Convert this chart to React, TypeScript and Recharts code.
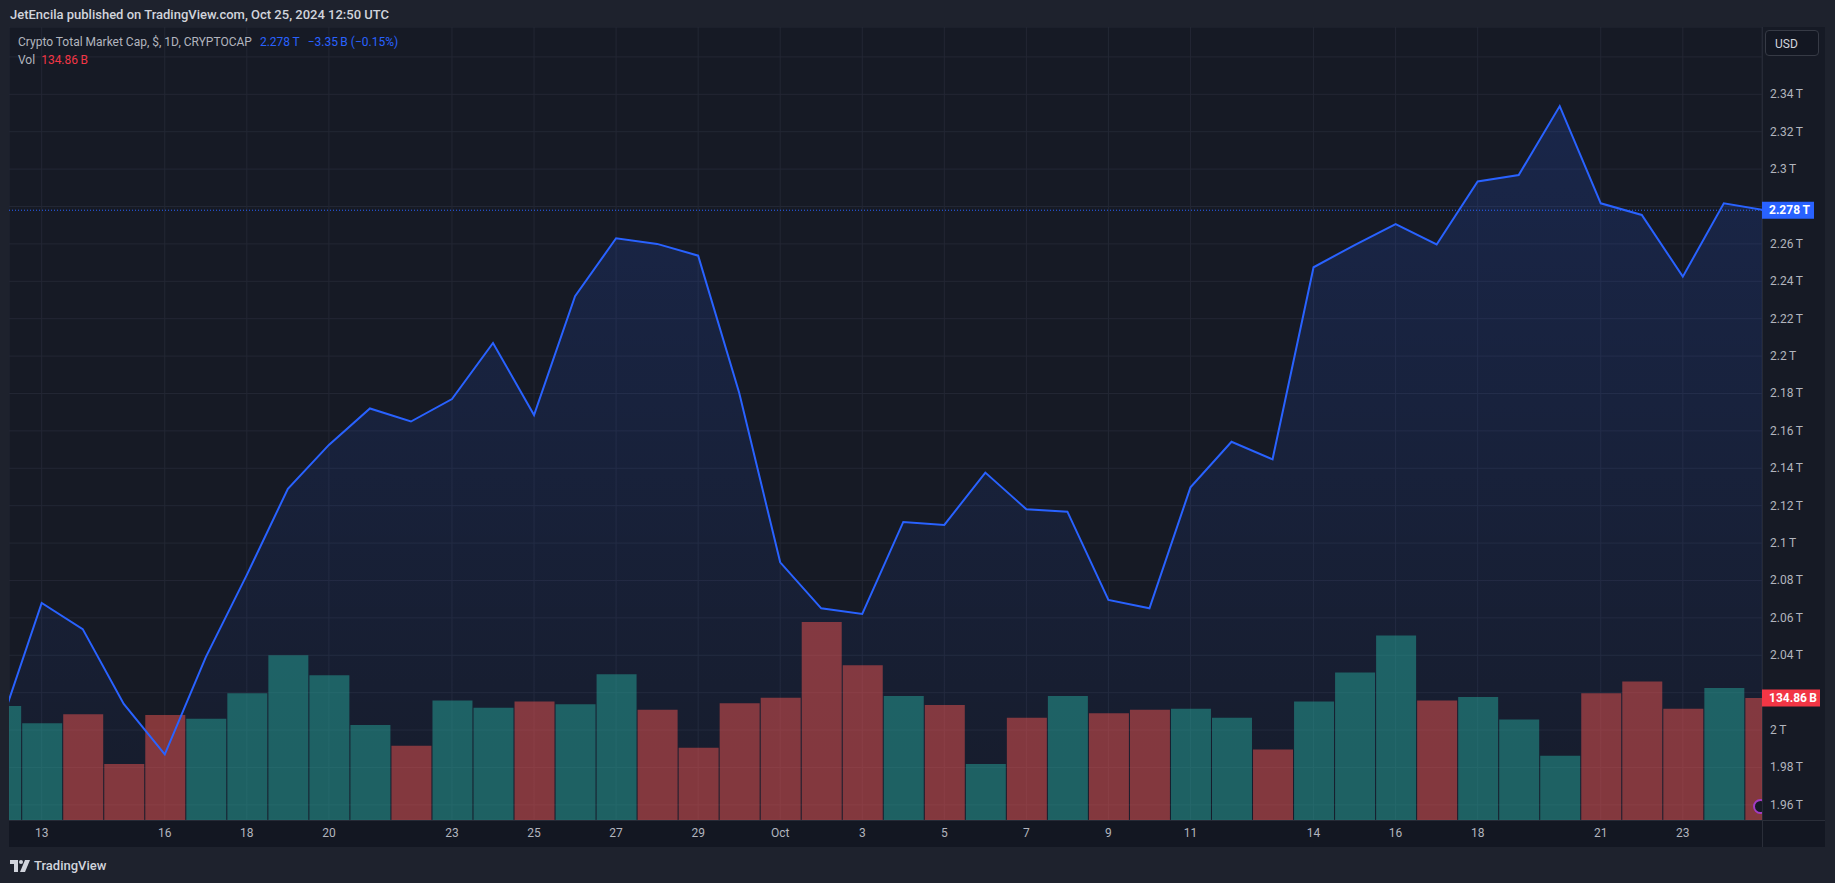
import React from 'react';
import { ComposedChart, Area, Line, Bar, Cell, XAxis, YAxis, CartesianGrid, ReferenceLine } from 'recharts';

// daily closes, Sep 12 – Oct 25 2024
const days = [
    'Sep 12', 'Sep 13', 'Sep 14', 'Sep 15', 'Sep 16', 'Sep 17', 'Sep 18', 'Sep 19', 'Sep 20', 'Sep 21',
    'Sep 22', 'Sep 23', 'Sep 24', 'Sep 25', 'Sep 26', 'Sep 27', 'Sep 28', 'Sep 29', 'Sep 30',
    'Oct 1', 'Oct 2', 'Oct 3', 'Oct 4', 'Oct 5', 'Oct 6', 'Oct 7', 'Oct 8', 'Oct 9', 'Oct 10',
    'Oct 11', 'Oct 12', 'Oct 13', 'Oct 14', 'Oct 15', 'Oct 16', 'Oct 17', 'Oct 18', 'Oct 19', 'Oct 20',
    'Oct 21', 'Oct 22', 'Oct 23', 'Oct 24', 'Oct 25',
];

// total market cap, trillions USD
const marketCap = [
    2.003, 2.068, 2.054, 2.014, 1.987, 2.039, 2.083, 2.129, 2.1525, 2.172,
    2.165, 2.177, 2.207, 2.1685, 2.232, 2.263, 2.26, 2.2537, 2.1804,
    2.0897, 2.0651, 2.0621, 2.1113, 2.1097, 2.1377, 2.1181, 2.1168, 2.0696, 2.0651,
    2.1298, 2.1542, 2.1448, 2.2475, 2.2594, 2.2706, 2.2597, 2.2934, 2.2968, 2.3337,
    2.2817, 2.2755, 2.2425, 2.2817, 2.278,
];

// volume, billions USD
const volume = [
    126, 107, 117, 62, 116, 112, 140, 182, 160, 105,
    82, 132, 124, 131, 128, 161, 122, 80, 129,
    135, 219, 171, 137, 127, 62, 113, 137, 118, 122,
    123, 113, 78, 131, 163, 204, 132, 136, 111, 71,
    140, 153, 123, 146, 134.86,
];

// 1 = candle closed up, 0 = closed down
const closedUp = [
    1, 1, 0, 0, 0, 1, 1, 1, 1, 1,
    0, 1, 1, 0, 1, 1, 0, 0, 0,
    0, 0, 0, 1, 0, 1, 0, 1, 0, 0,
    1, 1, 0, 1, 1, 1, 0, 1, 1, 1,
    0, 0, 0, 1, 0,
];

const dateTicks = [1, 4, 6, 8, 11, 13, 15, 17, 19, 21, 23, 25, 27, 29, 32, 34, 36, 39, 41];
const dateTickLabels = ['13', '16', '18', '20', '23', '25', '27', '29', 'Oct', '3', '5', '7', '9', '11', '14', '16', '18', '21', '23'];

const priceTicks = [1.96, 1.98, 2, 2.02, 2.04, 2.06, 2.08, 2.1, 2.12, 2.14, 2.16, 2.18, 2.2, 2.22, 2.24, 2.26, 2.28, 2.3, 2.32, 2.34, 2.36];
// scale labels covered by the USD box / last-value tags
const hiddenPriceLabels = [2.02, 2.28, 2.36];

const data = days.map((day, i) => ({
    i,
    day,
    cap: marketCap[i],
    vol: volume[i],
    up: closedUp[i],
}));

const last = data[data.length - 1];

const FONT = 'Roboto, "Noto Sans", sans-serif';
const BLUE = '#2962ff';
const TEAL = '#26a69a';
const RED = '#ef5350';
const TEXT = '#b2b5be';
const SP = '\u2009';

const fmtT = (v: number) => `${Number(v.toFixed(3))}${SP}T`;

const PriceTick = (props: any) => {
    const { x, y, payload } = props;
    if (hiddenPriceLabels.some((h) => Math.abs(h - payload.value) < 1e-6)) return null;
    return (
        <text x={x} y={y} dy={4} fill={TEXT} fontSize={12} fontFamily={FONT}>
            {fmtT(payload.value)}
        </text>
    );
};

const DateTick = (props: any) => {
    const { x, y, payload } = props;
    const idx = dateTicks.indexOf(payload.value);
    return (
        <text x={x} y={y} dy={17} textAnchor="middle" fill={TEXT} fontSize={12} fontFamily={FONT}>
            {dateTickLabels[idx]}
        </text>
    );
};

const AxisTag = (props: any) => {
    const { viewBox, text, color, w } = props;
    if (!viewBox) return null;
    const x = viewBox.x + viewBox.width;
    const y = viewBox.y;
    return (
        <g>
            <rect x={x} y={y - 8.5} width={w} height={17} fill={color} />
            <text x={x + 7} y={y + 4} fill="#ffffff" fontSize={12} fontWeight={700} fontFamily={FONT}>
                {text}
            </text>
        </g>
    );
};

const TvLogo = () => (
    <svg width={20} height={12} viewBox="0 0 20 12" style={{ display: 'block' }}>
        <path d="M0 0h8v12H4V4H0z" fill="#d1d4dc" />
        <circle cx={11} cy={2} r={2} fill="#d1d4dc" />
        <path d="M15 0h5l-5 12h-5z" fill="#d1d4dc" />
    </svg>
);

export default function App() {
    return (
        <div style={{ position: 'relative', width: 1835, height: 883, background: '#1e222d', fontFamily: FONT, overflow: 'hidden' }}>
            <style>{'body{margin:0;background:#1e222d}'}</style>

            <div style={{ position: 'absolute', left: 10, top: 6, fontSize: 13, fontWeight: 500, color: '#d1d4dc', lineHeight: '18px' }}>
                JetEncila published on TradingView.com, Oct 25, 2024 12:50 UTC
            </div>

            {/* pane + axis backgrounds */}
            <div style={{ position: 'absolute', left: 9, top: 27, width: 1816, height: 820, background: '#161a25' }} />
            <div style={{ position: 'absolute', left: 9, top: 821, width: 1816, height: 26, background: '#131722' }} />
            <div style={{ position: 'absolute', left: 1762, top: 27, width: 1, height: 820, background: '#2a2e39' }} />
            <div style={{ position: 'absolute', left: 9, top: 820, width: 1816, height: 1, background: '#2a2e39' }} />

            <div style={{ position: 'absolute', left: 9, top: 27 }}>
                <ComposedChart width={1816} height={820} data={data} margin={{ top: 0, right: 0, bottom: 0, left: 0 }}>
                    <defs>
                        <linearGradient id="capFill" x1="0" y1="0" x2="0" y2="1">
                            <stop offset="0%" stopColor={BLUE} stopOpacity={0.28} />
                            <stop offset="100%" stopColor={BLUE} stopOpacity={0.05} />
                        </linearGradient>
                    </defs>
                    <CartesianGrid yAxisId="price" stroke="#232734" strokeWidth={1} />
                    <XAxis
                        dataKey="i"
                        type="number"
                        domain={[0.203, 42.93]}
                        allowDataOverflow
                        ticks={dateTicks}
                        tick={<DateTick />}
                        tickSize={0}
                        tickMargin={0}
                        axisLine={false}
                        height={27}
                        interval={0}
                    />
                    <YAxis
                        yAxisId="price"
                        orientation="right"
                        type="number"
                        domain={[1.9519, 2.376]}
                        allowDataOverflow
                        ticks={priceTicks}
                        tick={<PriceTick />}
                        tickSize={0}
                        tickMargin={8}
                        axisLine={false}
                        width={63}
                        interval={0}
                    />
                    <YAxis yAxisId="vol" hide domain={[0, 876.6]} allowDataOverflow />
                    <Bar dataKey="vol" yAxisId="vol" barSize={40} isAnimationActive={false}>
                        {data.map((d, idx) => (
                            <Cell key={`vol-${idx}`} fill={d.up ? TEAL : RED} fillOpacity={0.5} />
                        ))}
                    </Bar>
                    <Area
                        dataKey="cap"
                        yAxisId="price"
                        type="linear"
                        stroke="none"
                        fill="url(#capFill)"
                        isAnimationActive={false}
                    />
                    <Line
                        dataKey="cap"
                        yAxisId="price"
                        type="linear"
                        stroke={BLUE}
                        strokeWidth={2}
                        dot={false}
                        activeDot={false}
                        isAnimationActive={false}
                    />
                    <ReferenceLine
                        yAxisId="price"
                        y={last.cap}
                        stroke={BLUE}
                        strokeWidth={1}
                        strokeDasharray="1 2"
                        label={<AxisTag text={fmtT(last.cap)} color={BLUE} w={52} />}
                    />
                    <ReferenceLine
                        yAxisId="vol"
                        y={last.vol}
                        stroke="none"
                        label={<AxisTag text={`${last.vol}${SP}B`} color="#f23645" w={58} />}
                    />
                </ComposedChart>
            </div>

            {/* legend */}
            <div style={{ position: 'absolute', left: 18, top: 34, fontSize: 12, lineHeight: '16px', color: TEXT, whiteSpace: 'nowrap' }}>
                Crypto Total Market Cap, $, 1D, CRYPTOCAP
                <span style={{ color: BLUE, marginLeft: 8 }}>{fmtT(last.cap)}</span>
                <span style={{ color: BLUE, marginLeft: 8 }}>−3.35{SP}B (−0.15%)</span>
            </div>
            <div style={{ position: 'absolute', left: 18, top: 52, fontSize: 12, lineHeight: '16px', color: TEXT, whiteSpace: 'nowrap' }}>
                Vol
                <span style={{ color: '#f23645', marginLeft: 6 }}>{`${last.vol}${SP}B`}</span>
            </div>

            {/* currency box */}
            <div style={{ position: 'absolute', left: 1765, top: 30, width: 54, height: 26, border: '1px solid #363a45', borderRadius: 4, background: '#131722', color: '#d1d4dc', fontSize: 12, lineHeight: '26px', paddingLeft: 9, boxSizing: 'border-box' }}>
                USD
            </div>

            {/* event marker, half hidden under the price scale */}
            <div style={{ position: 'absolute', left: 1750, top: 797, width: 12, height: 20, overflow: 'hidden' }}>
                <div style={{ position: 'absolute', left: 3, top: 2, width: 15, height: 15, borderRadius: '50%', border: '2px solid #a23bc4', boxSizing: 'border-box', background: '#161a25' }} />
            </div>

            {/* footer */}
            <div style={{ position: 'absolute', left: 10, top: 858, display: 'flex', alignItems: 'center', gap: 4, color: '#d1d4dc', fontSize: 13, fontWeight: 500 }}>
                <TvLogo />
                <span>TradingView</span>
            </div>
        </div>
    );
}
